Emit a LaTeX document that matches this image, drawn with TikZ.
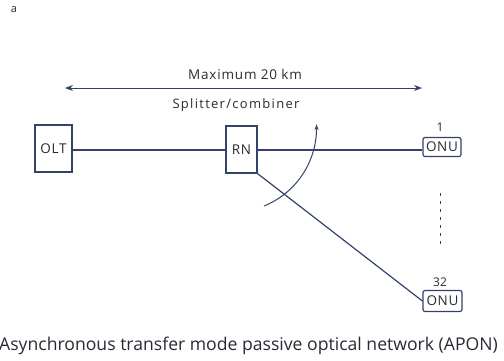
\documentclass[tikz,border=0pt]{standalone}
\usepackage{fontspec}
\setmainfont{Open Sans}
\usetikzlibrary{arrows.meta}
\definecolor{ln}{HTML}{34426A}
\definecolor{tx}{HTML}{2A2A35}
\tikzset{
  box/.style={draw=ln, line width=1.2pt, text=tx, font=\fontsize{13.5}{15}\addfontfeature{LetterSpace=5}, inner sep=0pt},
  fiber/.style={draw=ln, line width=1.2pt},
  lbl/.style={text=tx, font=\fontsize{13}{15}\selectfont, inner sep=0pt},
}
\begin{document}
\begin{tikzpicture}[x=1pt,y=-1pt]
\useasboundingbox[fill=white] (0,0) rectangle (504,360);
\node[lbl, font=\fontsize{11}{12}\selectfont] (a) at (14,10) {a};
% distance arrow
\coordinate (dl) at (65,88);
\coordinate (dr) at (422,88);
\draw[fiber, line width=1pt, {Stealth[length=8pt,width=6pt]}-{Stealth[length=8pt,width=6pt]}] (dl) -- (dr);
\node[lbl, font=\fontsize{13.5}{15}\addfontfeature{LetterSpace=6}] (max) at (245,74) {Maximum 20 km};
\node[lbl, font=\fontsize{13}{15}\addfontfeature{LetterSpace=10}] (spl) at (236,105) {Splitter/combiner};
% nodes
\node[box, minimum width=37pt, minimum height=47pt] (olt) at (53.5,148.5) {OLT};
\node[box, minimum width=31pt, minimum height=47pt] (rn) at (241.5,149.5) {RN};
\node[box, rounded corners=2pt, minimum width=38pt, minimum height=19pt] (onu1) at (442,147) {ONU};
\node[box, rounded corners=2pt, minimum width=39pt, minimum height=21pt] (onu32) at (442.5,301) {ONU};
\node[lbl, font=\fontsize{12}{14}\selectfont] (n1) at (440,127) {1};
\node[lbl, font=\fontsize{12}{14}\selectfont] (n32) at (440,282) {32};
% fibres
\draw[fiber] (olt.east |- 0,150) -- (rn.west |- 0,150);
\draw[fiber] (rn.east |- 0,150) -- (onu1.west |- 0,150);
\draw[fiber] (rn.south east) -- (onu32.west);
% dots
\coordinate (d1) at (440,193);
\coordinate (d2) at (440,247);
\draw[ln, line width=0.8pt, dash pattern=on 3pt off 5pt] (d1) -- (d2);
% arc
\coordinate (arcs) at (264,206);
\draw[fiber, line width=1pt, -{Stealth[length=6pt,width=4pt]}] (arcs) arc[start angle=68, end angle=0, radius=84] -- ++(0,-4);
% caption
\node[text=tx, font=\fontsize{17.6}{20}\selectfont, anchor=west, inner sep=0pt] (cap) at (-1,346) {Asynchronous transfer mode passive optical network (APON)};
\end{tikzpicture}
\end{document}
